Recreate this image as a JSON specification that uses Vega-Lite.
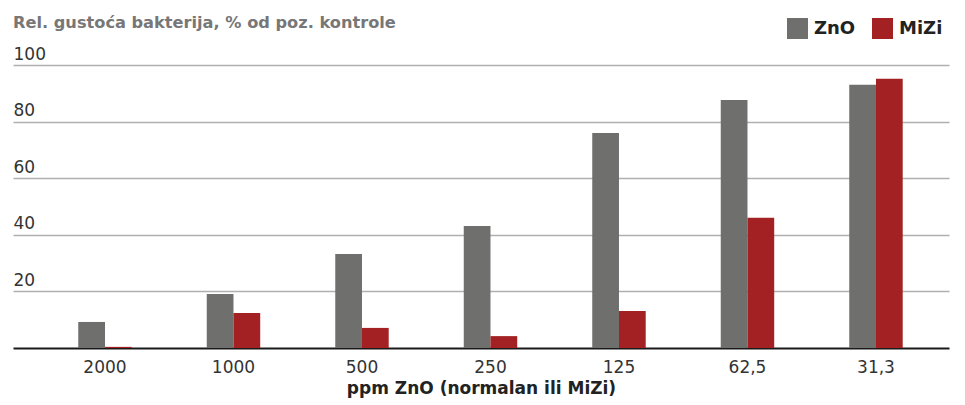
{
  "$schema": "https://vega.github.io/schema/vega-lite/v6.json",
  "autosize": "none",
  "width": 936,
  "height": 283,
  "padding": {"left": 13, "top": 65, "right": 16, "bottom": 57},
  "background": "white",
  "title": {
    "text": "Rel. gustoća bakterija, % od poz. kontrole",
    "anchor": "start",
    "frame": "group",
    "orient": "top",
    "baseline": "alphabetic",
    "offset": -26,
    "font": "DejaVu Sans",
    "fontSize": 16.2,
    "fontWeight": "bold",
    "color": "#777777"
  },
  "data": {
    "values": [
      {"ppm": "2000", "tip": "ZnO", "v": 9.2},
      {"ppm": "2000", "tip": "MiZi", "v": 0.4},
      {"ppm": "1000", "tip": "ZnO", "v": 19.1},
      {"ppm": "1000", "tip": "MiZi", "v": 12.4},
      {"ppm": "500", "tip": "ZnO", "v": 33.2},
      {"ppm": "500", "tip": "MiZi", "v": 7.1},
      {"ppm": "250", "tip": "ZnO", "v": 43.1},
      {"ppm": "250", "tip": "MiZi", "v": 4.2},
      {"ppm": "125", "tip": "ZnO", "v": 76.0},
      {"ppm": "125", "tip": "MiZi", "v": 13.1},
      {"ppm": "62,5", "tip": "ZnO", "v": 87.6},
      {"ppm": "62,5", "tip": "MiZi", "v": 46.0},
      {"ppm": "31,3", "tip": "ZnO", "v": 93.0},
      {"ppm": "31,3", "tip": "MiZi", "v": 95.1}
    ]
  },
  "mark": {"type": "bar"},
  "encoding": {
    "x": {
      "field": "ppm",
      "type": "nominal",
      "sort": null,
      "scale": {"paddingInner": 0.584, "paddingOuter": 0.434, "align": 0.585},
      "axis": {
        "title": "ppm ZnO (normalan ili MiZi)",
        "titleFont": "DejaVu Sans",
        "titleFontSize": 17,
        "titleFontWeight": "bold",
        "titleColor": "#222222",
        "titlePadding": 5,
        "labelAngle": 0,
        "labelFont": "DejaVu Sans",
        "labelFontSize": 17,
        "labelColor": "#333333",
        "labelPadding": 11,
        "ticks": false,
        "tickSize": 0,
        "domainColor": "#1a1a1a",
        "domainWidth": 2,
        "grid": false
      }
    },
    "xOffset": {"field": "tip", "type": "nominal", "sort": ["ZnO", "MiZi"], "scale": {"paddingInner": 0, "paddingOuter": 0}},
    "y": {
      "field": "v",
      "type": "quantitative",
      "scale": {"domain": [0, 100], "nice": false},
      "axis": {
        "title": null,
        "values": [20, 40, 60, 80, 100],
        "domain": false,
        "ticks": false,
        "tickSize": 0,
        "labelAlign": "left",
        "labelBaseline": "bottom",
        "labelPadding": 0,
        "labelOffset": -2,
        "labelFont": "DejaVu Sans",
        "labelFontSize": 17,
        "labelColor": "#333333",
        "gridColor": "#b0b0b0",
        "gridWidth": 1.5
      }
    },
    "color": {
      "field": "tip",
      "type": "nominal",
      "sort": ["ZnO", "MiZi"],
      "scale": {"domain": ["ZnO", "MiZi"], "range": ["#6f6f6d", "#a32123"]},
      "legend": {
        "title": null,
        "orient": "none",
        "direction": "horizontal",
        "legendX": 774,
        "legendY": -47,
        "symbolType": "square",
        "symbolSize": 441,
        "symbolStrokeWidth": 0,
        "labelFont": "DejaVu Sans",
        "labelFontSize": 18,
        "labelFontWeight": "bold",
        "labelColor": "#222222",
        "labelOffset": 6,
        "columnPadding": 16,
        "encode": {
          "symbols": {
            "update": {
              "fill": {"signal": "datum.value === 'ZnO' ? '#9a9a99' : '#a32123'"},
              "stroke": {"value": "transparent"},
              "opacity": {"value": 1}
            }
          }
        }
      }
    }
  },
  "config": {"view": {"stroke": null}}
}
